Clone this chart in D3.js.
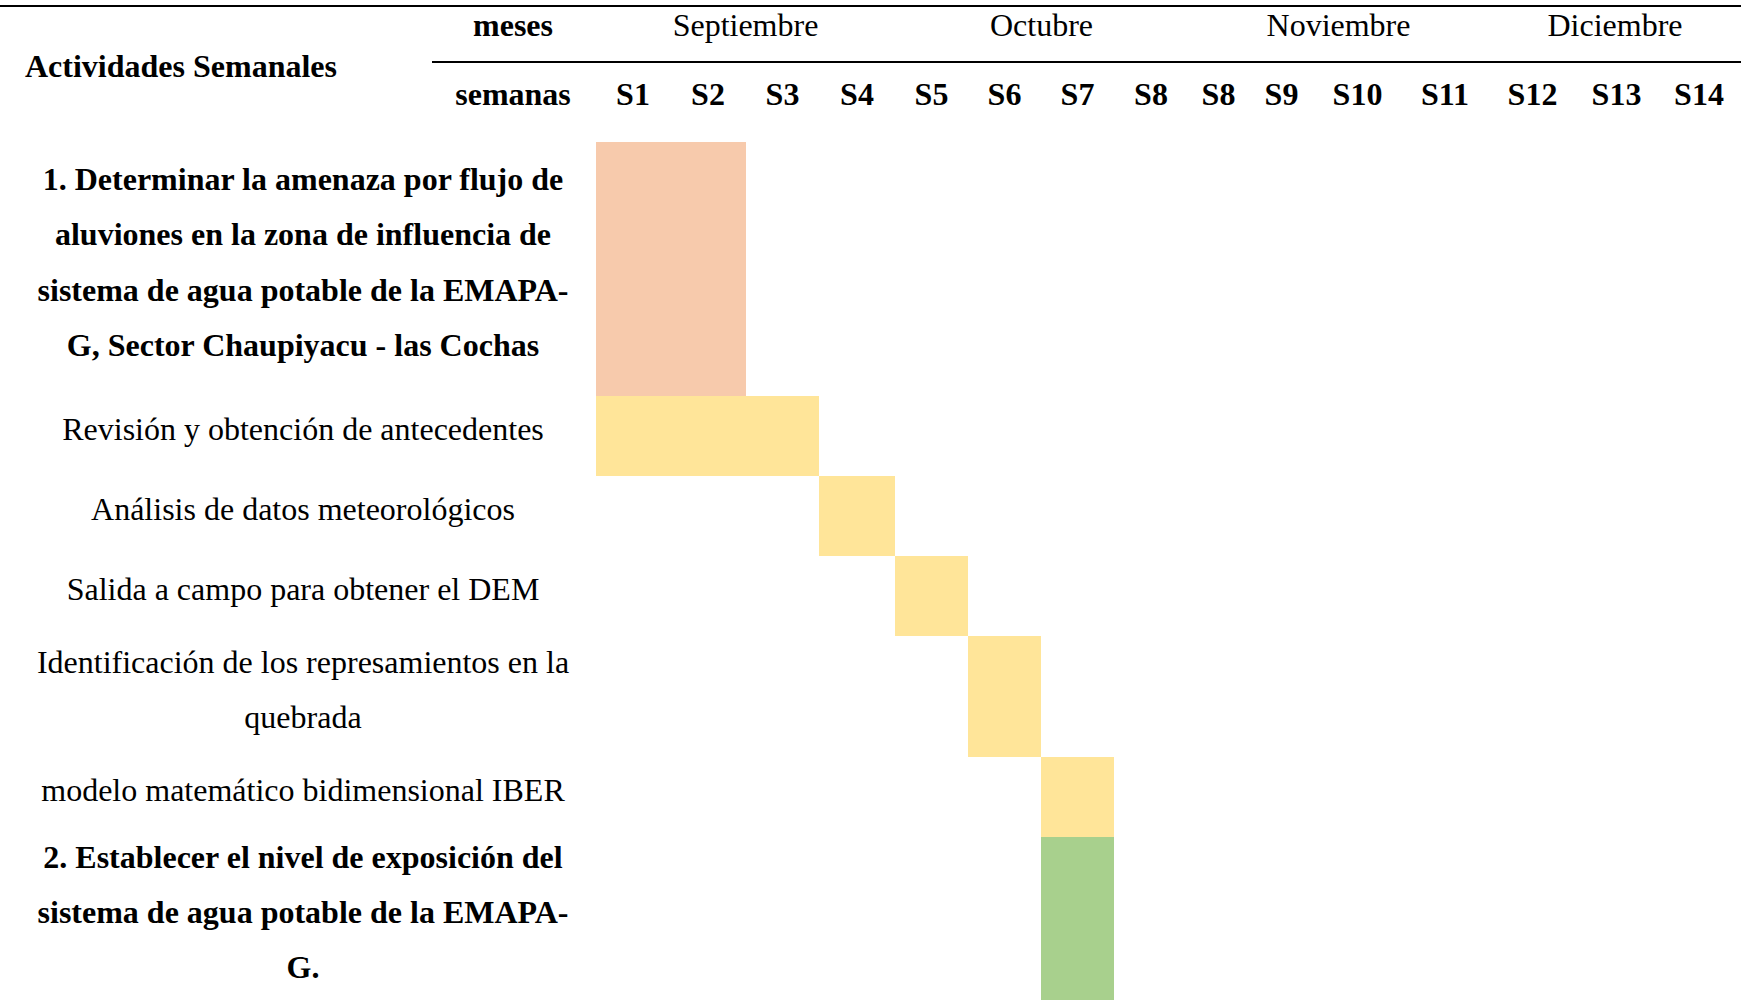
<!DOCTYPE html>
<html>
<head>
<meta charset="utf-8">
<script src="https://cdn.jsdelivr.net/npm/d3@7"></script>
<style>
  body { margin: 0; background: #fff; }
  svg { display: block; font-family: 'Liberation Serif', 'Times New Roman', serif; }
</style>
</head>
<body>
<script>
// --- data ---
const months = ['Septiembre', 'Octubre', 'Noviembre', 'Diciembre'];
const weeksPerMonth = [4, 4, 4, 3];
const weeks = ['S1', 'S2', 'S3', 'S4', 'S5', 'S6', 'S7', 'S8', 'S8', 'S9', 'S10', 'S11', 'S12', 'S13', 'S14'];

const activities = [
  ['1. Determinar la amenaza por flujo de', 'aluviones en la zona de influencia de', 'sistema de agua potable de la EMAPA-', 'G, Sector Chaupiyacu - las Cochas'],
  ['Revisión y obtención de antecedentes'],
  ['Análisis de datos meteorológicos'],
  ['Salida a campo para obtener el DEM'],
  ['Identificación de los represamientos en la', 'quebrada'],
  ['modelo matemático bidimensional IBER'],
  ['2. Establecer el nivel de exposición del', 'sistema de agua potable de la EMAPA-', 'G.'],
];
const isObjective = [true, false, false, false, false, false, true];
const startWeek = [0, 0, 3, 4, 5, 6, 6];
const endWeek = [2, 3, 4, 5, 6, 7, 7];
const phase = ['obj1', 'task', 'task', 'task', 'task', 'task', 'obj2'];

// --- layout ---
const width = 1741;
const height = 1000;
const fontSize = 32;
const lineHeight = 55.3;
const rowHeightByLines = { 1: 80, 2: 121, 3: 164, 4: 254 };
const colEdges = [596, 670, 746, 819, 895, 968, 1041, 1114, 1188, 1249, 1314, 1401, 1489, 1576, 1657, 1741];
const colors = { obj1: '#F7CAAC', task: '#FFE599', obj2: '#A8D08D' };
const labelX = 303;

const x = d3.scaleLinear()
  .domain(d3.range(colEdges.length))
  .range(colEdges);

const rowEdges = [142, ...d3.cumsum(activities, d => rowHeightByLines[d.length]).map(v => v + 142)];
const y = d3.scaleLinear()
  .domain(d3.range(rowEdges.length))
  .range(rowEdges);

const svg = d3.select('body').append('svg')
  .attr('width', width)
  .attr('height', height);

svg.append('rect')
  .attr('width', width)
  .attr('height', height)
  .attr('fill', '#fff');

// bars (last one runs past the bottom edge, as in the source)
svg.selectAll('rect.bar')
  .data(d3.range(activities.length))
  .join('rect')
  .attr('class', 'bar')
  .attr('x', i => x(startWeek[i]))
  .attr('y', i => y(i))
  .attr('width', i => x(endWeek[i]) - x(startWeek[i]))
  .attr('height', i => (i === activities.length - 1 ? height - y(i) : y(i + 1) - y(i)))
  .attr('fill', i => colors[phase[i]]);

// header rules
svg.append('line')
  .attr('x1', 0).attr('x2', width)
  .attr('y1', 6).attr('y2', 6)
  .attr('stroke', '#000').attr('stroke-width', 2);

svg.append('line')
  .attr('x1', 432).attr('x2', width)
  .attr('y1', 62).attr('y2', 62)
  .attr('stroke', '#000').attr('stroke-width', 2);

// header text
svg.append('text')
  .attr('x', 181).attr('y', 77)
  .attr('text-anchor', 'middle')
  .style('font-size', `${fontSize}px`)
  .style('font-weight', 'bold')
  .text('Actividades Semanales');

svg.append('text')
  .attr('x', 513).attr('y', 36)
  .attr('text-anchor', 'middle')
  .style('font-size', `${fontSize}px`)
  .style('font-weight', 'bold')
  .text('meses');

svg.append('text')
  .attr('x', 513).attr('y', 105)
  .attr('text-anchor', 'middle')
  .style('font-size', `${fontSize}px`)
  .style('font-weight', 'bold')
  .text('semanas');

const monthStart = d3.cumsum([0, ...weeksPerMonth]);

svg.selectAll('text.month')
  .data(months)
  .join('text')
  .attr('class', 'month')
  .attr('x', (d, i) => (x(monthStart[i]) + x(monthStart[i + 1])) / 2)
  .attr('y', 36)
  .attr('text-anchor', 'middle')
  .style('font-size', `${fontSize}px`)
  .text(d => d);

svg.selectAll('text.week')
  .data(weeks)
  .join('text')
  .attr('class', 'week')
  .attr('x', (d, i) => (x(i) + x(i + 1)) / 2)
  .attr('y', 105)
  .attr('text-anchor', 'middle')
  .style('font-size', `${fontSize}px`)
  .style('font-weight', 'bold')
  .text(d => d);

// activity labels
const label = svg.selectAll('text.activity')
  .data(activities)
  .join('text')
  .attr('class', 'activity')
  .attr('text-anchor', 'middle')
  .style('font-size', `${fontSize}px`)
  .style('font-weight', (d, i) => (isObjective[i] ? 'bold' : 'normal'));

label.each(function (lines, i) {
  const mid = (y(i) + y(i + 1)) / 2 + 4;
  d3.select(this).selectAll('tspan')
    .data(lines)
    .join('tspan')
    .attr('x', labelX)
    .attr('y', (d, j) => mid + (j - (lines.length - 1) / 2) * lineHeight)
    .text(d => d);
});
</script>
</body>
</html>
